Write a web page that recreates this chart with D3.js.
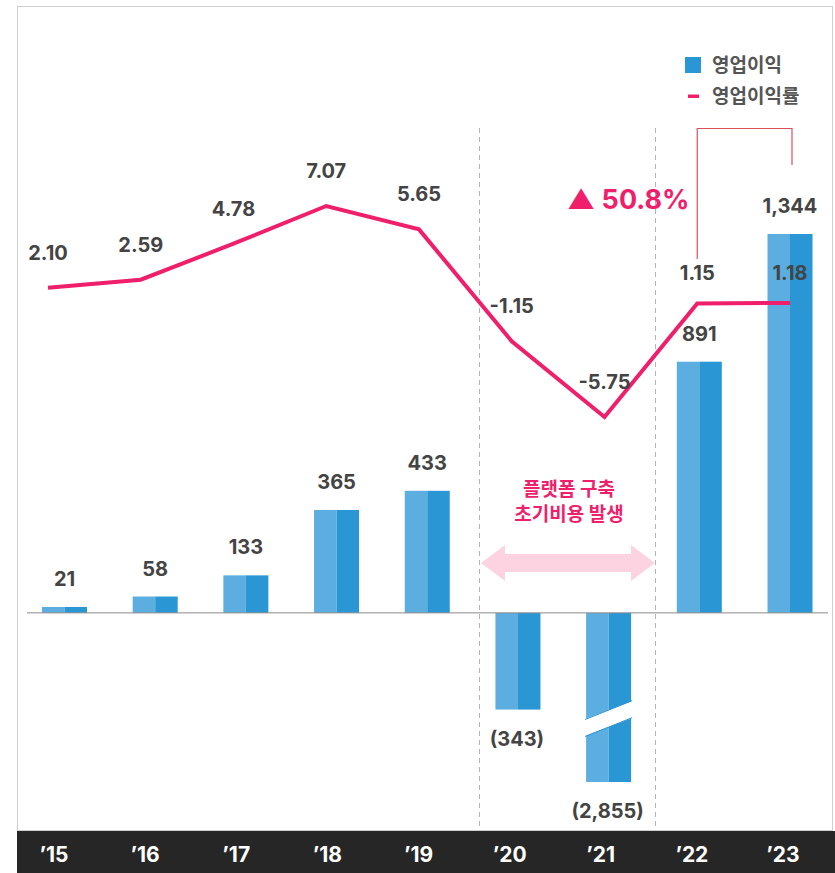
<!DOCTYPE html>
<html>
<head>
<meta charset="utf-8">
<script src="https://cdn.jsdelivr.net/npm/d3@7"></script>
<style>
  body { margin: 0; background: #fff; }
  text { font-family: "Inter", "Noto Sans CJK KR", sans-serif; }
</style>
</head>
<body>
<div id="chart"></div>
<script>
// chart data
var years = ["’15", "’16", "’17", "’18", "’19", "’20", "’21", "’22", "’23"];
var profit = [21, 58, 133, 365, 433, -343, -2855, 891, 1344];
var profitRate = [2.10, 2.59, 4.78, 7.07, 5.65, -1.15, -5.75, 1.15, 1.18];
var legendLabels = ["영업이익", "영업이익률"];
var noteLines = ["플랫폼 구축", "초기비용 발생"];
var growthLabel = "▲ 50.8%";

var W = 835, H = 873;
var pink = "#ef1f6c", blueL = "#5caee0", blueD = "#2a96d4", dark = "#444";

var svg = d3.select("#chart").append("svg")
    .attr("width", W)
    .attr("height", H);

// scales
var xBar = d3.scalePoint().domain(years).range([64.5, 790]);
var xLine = d3.scalePoint().domain(years).range([48, 790]);
var xLab = d3.scalePoint().domain(years).range([54, 783]);
// bars below -600 are cut with a break mark
var yBar = d3.scaleLinear().domain([-600, 1344]).range([782, 234]).clamp(true);
var yLine = d3.scaleLinear().domain([-5.75, 7.07]).range([417, 206]);

// frame + year band
svg.append("rect")
    .attr("x", 17.5).attr("y", 6.5)
    .attr("width", 815).attr("height", 824)
    .attr("fill", "none").attr("stroke", "#cfcfcf");

svg.append("rect")
    .attr("x", 17).attr("y", 831)
    .attr("width", W - 17).attr("height", H - 831)
    .attr("fill", "#262626");

svg.selectAll(".year")
    .data(years)
  .enter().append("text")
    .attr("x", function(d) { return xLab(d); })
    .attr("y", 862)
    .attr("text-anchor", "middle")
    .attr("fill", "#fff")
    .attr("font-size", 21)
    .attr("font-weight", 700)
    .text(function(d) { return d; });

// dashed separators
[479.5, 655.5].forEach(function(x) {
  svg.append("line")
      .attr("x1", x).attr("x2", x)
      .attr("y1", 128).attr("y2", 830)
      .attr("stroke", "#b5b5b5")
      .attr("stroke-dasharray", "5,4");
});

// bars (two-tone)
var bw = 45;
var bars = svg.selectAll(".bar")
    .data(profit)
  .enter().append("g")
    .attr("class", "bar");

bars.append("rect")
    .attr("x", function(d, i) { return xBar(years[i]) - bw / 2; })
    .attr("y", function(d) { return Math.min(yBar(d), yBar(0)); })
    .attr("width", bw / 2)
    .attr("height", function(d) { return Math.abs(yBar(d) - yBar(0)); })
    .attr("fill", blueL);

bars.append("rect")
    .attr("x", function(d, i) { return xBar(years[i]); })
    .attr("y", function(d) { return Math.min(yBar(d), yBar(0)); })
    .attr("width", bw / 2)
    .attr("height", function(d) { return Math.abs(yBar(d) - yBar(0)); })
    .attr("fill", blueD);

// break mark on the clipped bar
profit.forEach(function(v, i) {
  if (v >= yBar.domain()[0]) return;
  var cx = xBar(years[i]), cy = yBar(-375);
  var x0 = cx - bw / 2 - 4, x1 = cx + bw / 2 + 4;
  var s = 10, t = 17;
  svg.append("polygon")
      .attr("points", [[x0, cy - t / 2 + s], [x1, cy - t / 2 - s], [x1, cy + t / 2 - s], [x0, cy + t / 2 + s]].join(" "))
      .attr("fill", "#fff");
  [-t / 2, t / 2].forEach(function(o) {
    svg.append("line")
        .attr("x1", x0 + 3).attr("y1", cy + o + s - 0.6)
        .attr("x2", x1 - 3).attr("y2", cy + o - s + 0.6)
        .attr("stroke", blueD).attr("stroke-width", 1);
  });
});

// zero line
svg.append("line")
    .attr("x1", 27).attr("x2", 828)
    .attr("y1", yBar(0)).attr("y2", yBar(0))
    .attr("stroke", "#8a8a8a").attr("stroke-width", 1);

// bar value labels
var fmt = d3.format(",");
svg.selectAll(".blabel")
    .data(profit)
  .enter().append("text")
    .attr("x", function(d, i) { return xBar(years[i]) + (d < 0 ? -1 : 0); })
    .attr("y", function(d) { return d >= 0 ? yBar(d) - 21 : yBar(d) + 36; })
    .attr("text-anchor", "middle")
    .attr("fill", dark)
    .attr("font-size", 20)
    .attr("font-weight", 700)
    .text(function(d) { return d >= 0 ? fmt(d) : "(" + fmt(-d) + ")"; });

// pink double arrow
var ax0 = 481, ax1 = 655, ay = 563, hl = 24;
svg.append("polygon")
    .attr("points", [
      [ax0, ay], [ax0 + hl, ay - 18], [ax0 + hl, ay - 9], [ax1 - hl, ay - 9], [ax1 - hl, ay - 18],
      [ax1, ay], [ax1 - hl, ay + 18], [ax1 - hl, ay + 9], [ax0 + hl, ay + 9], [ax0 + hl, ay + 18]
    ].join(" "))
    .attr("fill", "#fdd3e1");

svg.selectAll(".note")
    .data(noteLines)
  .enter().append("text")
    .attr("x", 569)
    .attr("y", function(d, i) { return 496 + i * 25; })
    .attr("text-anchor", "middle")
    .attr("fill", pink)
    .attr("font-size", 19)
    .attr("font-weight", 700)
    .text(function(d) { return d; });

// rate line
var line = d3.line()
    .x(function(d, i) { return xLine(years[i]); })
    .y(function(d) { return yLine(d); });

svg.append("path")
    .datum(profitRate)
    .attr("d", line)
    .attr("fill", "none")
    .attr("stroke", pink)
    .attr("stroke-width", 4)
    .attr("stroke-linejoin", "miter");

svg.selectAll(".rlabel")
    .data(profitRate)
  .enter().append("text")
    .attr("x", function(d, i) { return xLine(years[i]); })
    .attr("y", function(d, i) { return yLine(d) - (i >= 7 ? 23 : 28); })
    .attr("text-anchor", "middle")
    .attr("fill", dark)
    .attr("font-size", 20)
    .attr("font-weight", 700)
    .text(function(d) { return d.toFixed(2); });

// growth bracket
svg.append("path")
    .attr("d", "M" + xLine(years[7]) + "," + 259 + "V128.5H" + (xLine(years[8]) + 2) + "V165")
    .attr("fill", "none")
    .attr("stroke", "#d9505c")
    .attr("stroke-width", 1.2);

svg.append("text")
    .attr("x", 567)
    .attr("y", 209)
    .attr("fill", pink)
    .attr("font-size", 27)
    .attr("font-weight", 700)
    .text(growthLabel);

// legend
svg.append("rect")
    .attr("x", 685).attr("y", 57)
    .attr("width", 16).attr("height", 16)
    .attr("fill", blueD);

svg.append("rect")
    .attr("x", 688).attr("y", 94.5)
    .attr("width", 11).attr("height", 3.5)
    .attr("fill", pink);

svg.selectAll(".leg")
    .data(legendLabels)
  .enter().append("text")
    .attr("x", 712)
    .attr("y", function(d, i) { return 72 + i * 31; })
    .attr("fill", "#555")
    .attr("font-size", 19)
    .attr("font-weight", 700)
    .text(function(d) { return d; });
</script>
</body>
</html>
